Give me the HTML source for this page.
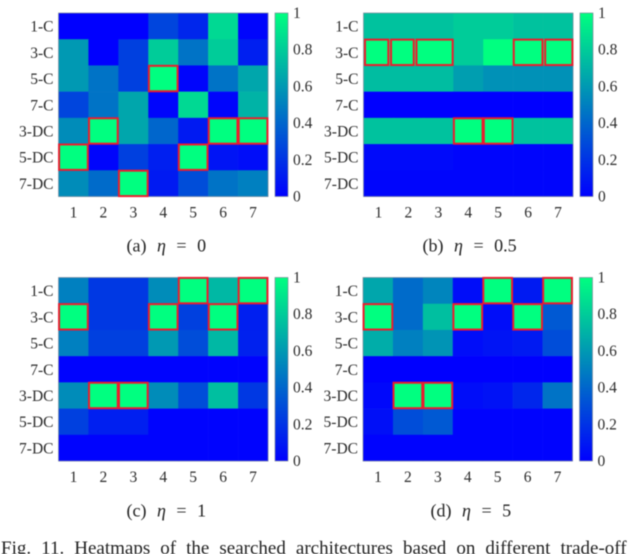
<!DOCTYPE html>
<html lang="en">
<head>
<meta charset="utf-8">
<title>Heatmaps of searched architectures</title>
<style>
html,body{margin:0;padding:0;background:#fff;width:640px;height:554px;overflow:hidden}
svg{display:block;filter:blur(0.45px)}
text{font-family:"Liberation Serif","DejaVu Serif",serif;fill:#2b2b2b}
.tick{font-size:15.5px}
.cap{font-size:18px;fill:#222;word-spacing:6px}
.fig{font-size:19px;fill:#222;word-spacing:5.3px}
</style>
</head>
<body>
<svg id="chart" xmlns="http://www.w3.org/2000/svg" width="640" height="554" viewBox="0 0 640 554">
  <defs>
    <linearGradient id="winter" x1="0" y1="1" x2="0" y2="0">
      <stop offset="0" stop-color="#0000ff"/>
      <stop offset="1" stop-color="#00ff80"/>
    </linearGradient>
  </defs>
  <g id="panels"></g>
  <text class="cap" x="126.5" y="251.5">(a) <tspan font-style="italic">η</tspan> = 0</text>
  <text class="cap" x="422.5" y="251.5">(b) <tspan font-style="italic">η</tspan> = 0.5</text>
  <text class="cap" x="126.5" y="516.5">(c) <tspan font-style="italic">η</tspan> = 1</text>
  <text class="cap" x="430.5" y="516.5">(d) <tspan font-style="italic">η</tspan> = 5</text>
  <text class="fig" x="1" y="554">Fig. 11. Heatmaps of the searched architectures based on different trade-off</text>
</svg>
<script>
const rowLabels = ['1-C','3-C','5-C','7-C','3-DC','5-DC','7-DC'];
const colLabels = ['1','2','3','4','5','6','7'];
const colorbarTicks = [0,0.2,0.4,0.6,0.8,1];

const valuesA = [
  [0.00,0.00,0.00,0.27,0.15,0.85,0.02],
  [0.60,0.00,0.25,0.80,0.45,0.80,0.12],
  [0.60,0.45,0.25,1.00,0.02,0.45,0.65],
  [0.27,0.45,0.65,0.02,0.85,0.02,0.70],
  [0.55,1.00,0.65,0.40,0.10,1.00,1.00],
  [1.00,0.02,0.25,0.12,1.00,0.08,0.05],
  [0.55,0.42,1.00,0.10,0.30,0.45,0.50]
];
const valuesB = [
  [0.76,0.76,0.76,0.80,0.80,0.76,0.76],
  [1.00,1.00,1.00,0.80,1.00,1.00,1.00],
  [0.74,0.74,0.74,0.62,0.57,0.57,0.57],
  [0.00,0.00,0.00,0.00,0.00,0.00,0.00],
  [0.76,0.76,0.76,1.00,1.00,0.76,0.76],
  [0.04,0.04,0.04,0.02,0.02,0.02,0.02],
  [0.02,0.02,0.02,0.02,0.02,0.02,0.02]
];
const valuesC = [
  [0.50,0.22,0.22,0.55,1.00,0.72,1.00],
  [1.00,0.22,0.22,1.00,0.25,1.00,0.12],
  [0.50,0.25,0.25,0.60,0.30,0.72,0.13],
  [0.01,0.01,0.01,0.01,0.01,0.01,0.01],
  [0.55,1.00,1.00,0.55,0.30,0.75,0.22],
  [0.25,0.12,0.12,0.01,0.01,0.01,0.01],
  [0.01,0.01,0.01,0.01,0.01,0.01,0.01]
];
const valuesD = [
  [0.65,0.42,0.52,0.05,1.00,0.10,1.00],
  [1.00,0.42,0.75,1.00,0.05,1.00,0.35],
  [0.68,0.50,0.58,0.05,0.08,0.10,0.30],
  [0.00,0.00,0.00,0.00,0.00,0.00,0.00],
  [0.03,1.00,1.00,0.05,0.07,0.15,0.45],
  [0.06,0.30,0.35,0.01,0.01,0.01,0.01],
  [0.01,0.01,0.01,0.01,0.01,0.01,0.01]
];

/* highlighted boxes, in cell units: [colStart, colEnd, rowStart, rowEnd] */
const boxesA = [[3,4,2,3],[1,2,4,5],[5,6,4,5],[6,7,4,5],[0,1,5,6],[4,5,5,6],[2,3,6,7]];
const boxesB = [[0.03,0.85,1,2],[0.9,1.7,1,2],[1.75,3,1,2],[5,6,1,2],[6.05,7,1,2],[3,4,4,5],[4,5,4,5]];
const boxesC = [[4,5,0,1],[6,7,0,1],[0,1,1,2],[3,4,1,2],[5,6,1,2],[1,2,4,5],[2,3,4,5]];
const boxesD = [[4,5,0,1],[6,7,0,1],[0,1,1,2],[3,4,1,2],[5,6,1,2],[1,2,4,5],[2,3,4,5]];

const panelIds = ['a','b','c','d'];
const panelValues = [valuesA,valuesB,valuesC,valuesD];
const panelBoxes = [boxesA,boxesB,boxesC,boxesD];

const NS = 'http://www.w3.org/2000/svg';
const root = document.getElementById('panels');

function winter(v){
  const g = Math.round(255*v), b = Math.round(255-127*v);
  return 'rgb(0,'+g+','+b+')';
}
function make(tag, attrs, parent){
  const el = document.createElementNS(NS, tag);
  for (const k in attrs) el.setAttribute(k, attrs[k]);
  parent.appendChild(el);
  return el;
}
function layoutFor(i){
  const left = [58.5,363.5,58.5,363][i];
  const top = [13,13,277.5,277.5][i];
  return {left:left, top:top, w:209.5, h:183.5, barX:left+216.5, barW:13};
}

panelIds.forEach(function(id,i){
  const L = layoutFor(i);
  const x = function(c){ return L.left + c*L.w/colLabels.length; };
  const y = function(r){ return L.top + r*L.h/rowLabels.length; };
  const barY = function(v){ return L.top + L.h*(1-v); };

  const g = make('g',{},root);
  
  

  panelValues[i].forEach(function(row,r){
    row.forEach(function(v,c){
      const cell = make('rect',{x:x(c),y:y(r),width:x(c+1)-x(c)+0.3,height:y(r+1)-y(r)+0.3,fill:winter(v)},g);
      
      
    });
  });

  const frame = make('rect',{x:L.left,y:L.top,width:L.w,height:L.h,fill:'none',stroke:'#7f8c9c','stroke-width':0.7},g);
  
  

  panelBoxes[i].forEach(function(b,n){
    const box = make('rect',{x:x(b[0])+0.6,y:y(b[2])+0.4,width:x(b[1])-x(b[0])-1.2,height:y(b[3])-y(b[2])-0.8,fill:'none',stroke:'#ec1c2e','stroke-width':2},g);
    
    
  });

  rowLabels.forEach(function(t,r){
    const tx = make('text',{class:'tick',x:L.left-5,y:y(r+0.5)+5.5,'text-anchor':'end'},g);
    tx.textContent = t;
    
    
  });
  colLabels.forEach(function(t,c){
    const tx = make('text',{class:'tick',x:x(c+0.5),y:L.top+L.h+21,'text-anchor':'middle'},g);
    tx.textContent = t;
    
    
  });

  const bar = make('rect',{x:L.barX,y:L.top,width:L.barW,height:L.h,fill:'url(#winter)',stroke:'#7f8c9c','stroke-width':0.7},g);
  
  

  colorbarTicks.forEach(function(v){
    const tx = make('text',{class:'tick',x:L.barX+L.barW+5,y:barY(v)+5},g);
    tx.textContent = String(v);
    
    
  });
});
</script>
</body>
</html>
